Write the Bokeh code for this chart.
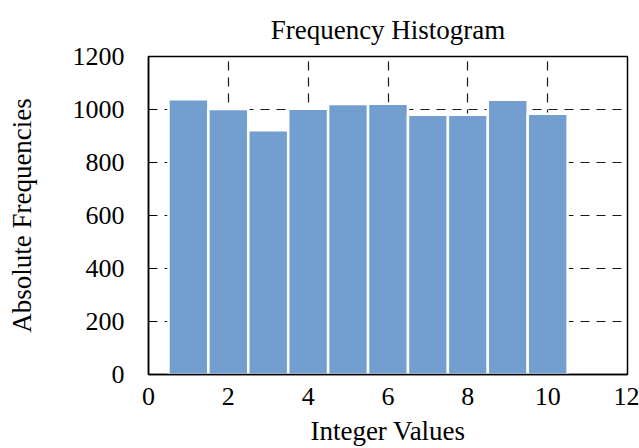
from bokeh.plotting import figure
from bokeh.models import FixedTicker, Range1d
from bokeh.embed import file_html
from bokeh.resources import INLINE

# data
values = [1, 2, 3, 4, 5, 6, 7, 8, 9, 10]
counts = [1039, 1002, 922, 1003, 1021, 1022, 980, 980, 1037, 984]
x_ticks = [0, 2, 4, 6, 8, 10, 12]
y_ticks = [0, 200, 400, 600, 800, 1000, 1200]

FONT = "Liberation Serif"

p = figure(width=639, height=448, output_backend="svg", toolbar_location=None,
           x_range=Range1d(0, 12), y_range=Range1d(0, 1200),
           title="Frequency Histogram",
           min_border_left=148, min_border_right=12,
           min_border_top=56, min_border_bottom=74)

p.vbar(x=values, top=counts, width=1.0, bottom=0,
       fill_color="#729fcf", line_color="white", line_width=2.5)

p.title.text_font = FONT
p.title.text_font_size = "27px"
p.title.text_font_style = "normal"
p.title.align = "center"
p.title.vertical_align = "top"
p.title.text_color = "black"
p.title.standoff = 20

p.outline_line_color = "black"
p.outline_line_width = 1.5
p.background_fill_color = "white"
p.border_fill_color = "white"

for ax, ticks in ((p.xaxis[0], x_ticks), (p.yaxis[0], y_ticks)):
    ax.ticker = FixedTicker(ticks=ticks)
    ax.minor_tick_line_color = None
    ax.major_tick_in = 8
    ax.major_tick_out = 0
    ax.major_tick_line_color = "black"
    ax.major_tick_line_width = 1
    ax.axis_line_color = "black"
    ax.axis_line_width = 1.5
    ax.major_label_text_font = FONT
    ax.major_label_text_font_size = "26px"
    ax.major_label_text_color = "black"
    ax.axis_label_text_font = FONT
    ax.axis_label_text_font_size = "27px"
    ax.axis_label_text_font_style = "normal"
    ax.axis_label_text_color = "black"

p.xaxis[0].major_tick_in = 0
p.xaxis[0].axis_label = "Integer Values"
p.yaxis[0].axis_label = "Absolute Frequencies"
p.xaxis[0].major_label_standoff = 13
p.yaxis[0].major_label_standoff = 24
p.xaxis[0].axis_label_standoff = 8
p.yaxis[0].axis_label_standoff = 33

p.xgrid.ticker = FixedTicker(ticks=x_ticks)
p.ygrid.ticker = FixedTicker(ticks=y_ticks)
for g in (p.xgrid, p.ygrid):
    g.grid_line_color = "black"
    g.grid_line_width = 1.2
    g.grid_line_dash = "9 7"
    g.grid_line_alpha = 0.9

open("out.html", "w").write(file_html(p, INLINE))
